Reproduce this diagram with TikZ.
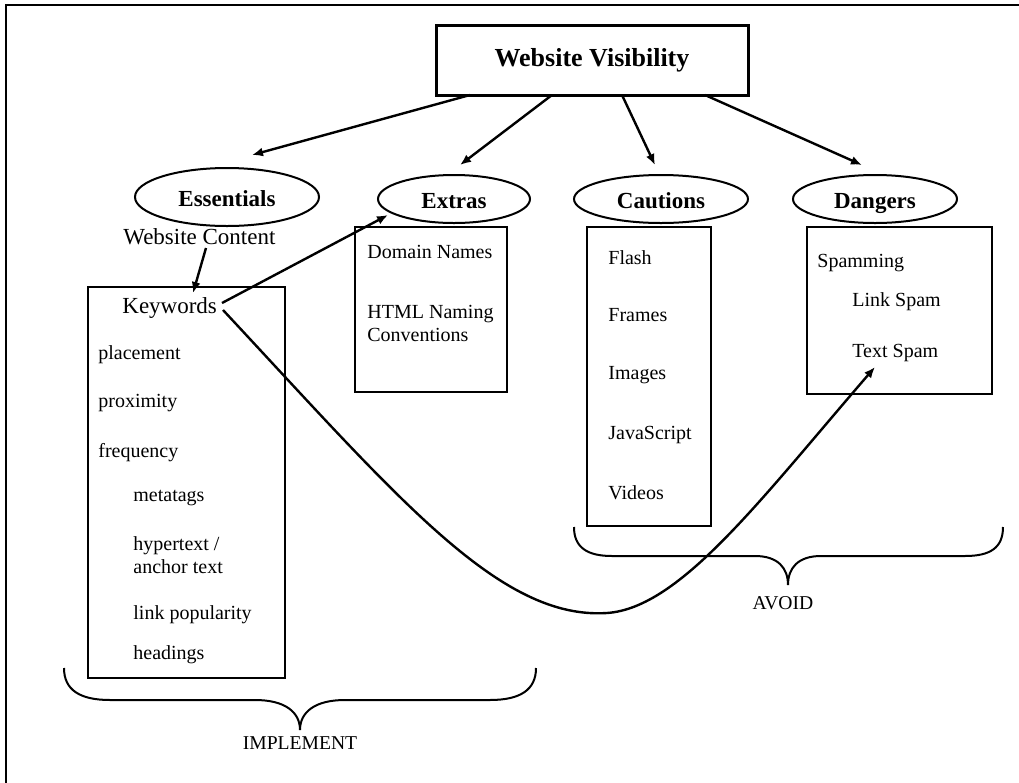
\documentclass[tikz,border=0pt]{standalone}
\usepackage{fontspec}
\setmainfont{Liberation Serif}
\usetikzlibrary{arrows.meta,shapes.geometric}
\begin{document}
\begin{tikzpicture}[x=0.5pt,y=-0.5pt,
  item/.style={inner sep=0pt,anchor=west,font=\fontsize{10}{11.5}\selectfont,align=left},
  bigitem/.style={inner sep=0pt,anchor=west,font=\fontsize{11.5}{13}\selectfont},
  oval/.style={draw,ellipse,line width=1pt,inner sep=0pt,text height=2.1ex,text depth=0.1ex,font=\bfseries\fontsize{11.5}{13}\selectfont},
  listbox/.style={draw,line width=0.6pt,inner sep=0pt},
  conn/.style={line width=1.2pt,-{Latex[length=5.5pt,width=4.5pt]}},
  brace/.style={line width=1pt},
  caption/.style={inner sep=0pt,font=\fontsize{9.8}{11}\selectfont}]
\useasboundingbox (0,0) rectangle (1019,783);
% outer frame (only top and left edges visible)
\draw[line width=1pt] (1019,5) -- (6,5) -- (6,783);

% title
\node (title) [draw,line width=1.5pt,minimum width=156pt,minimum height=35pt,inner sep=0pt,
  font=\bfseries\fontsize{13}{15}\selectfont] at (592,60) {Website Visibility};

% ellipses
\node (ess) [oval,minimum width=92pt,minimum height=29pt] at (227,197) {Essentials};
\node (ext) [oval,minimum width=76pt,minimum height=24pt] at (454,199) {Extras};
\node (cau) [oval,minimum width=87pt,minimum height=24pt] at (661,199) {Cautions};
\node (dan) [oval,minimum width=82pt,minimum height=24pt] at (875,199) {Dangers};

% boxes
\node (kbox) [listbox,minimum width=98.5pt,minimum height=195.5pt] at (186.5,482.5) {};
\node (xbox) [listbox,minimum width=76pt,minimum height=82.5pt] at (431,309.5) {};
\node (cbox) [listbox,minimum width=62pt,minimum height=149.5pt] at (649,376.5) {};
\node (dbox) [listbox,minimum width=92.5pt,minimum height=83.5pt] at (899.5,310.5) {};

% texts
\node (wc) [bigitem] at (123,237) {Website Content};
\node (kw) [bigitem] at (122,308) {Keywords};
\node (pl) [item] at (98,355) {placement};
\node (px) [item] at (98,403) {proximity};
\node (fr) [item] at (98,453) {frequency};
\node (mt) [item] at (133,498) {metatags};
\node (ht) [item] at (133,555) {hypertext /\\anchor text};
\node (lp) [item] at (133,615) {link popularity};
\node (hd) [item] at (133,655) {headings};

\node (dn) [item] at (367,252) {Domain Names};
\node (hn) [item] at (367,323) {HTML Naming\\Conventions};

\node (fl) [item] at (608,258) {Flash};
\node (fm) [item] at (608,315) {Frames};
\node (im) [item] at (608,375) {Images};
\node (js) [item] at (608,435) {JavaScript};
\node (vd) [item] at (608,493) {Videos};

\node (sp) [item] at (817,263) {Spamming};
\node (ls) [item] at (852,302) {Link Spam};
\node (ts) [item] at (852,353) {Text Spam};

% connector end points
\coordinate (t1) at (470,95);
\coordinate (t2) at (552,95);
\coordinate (t3) at (622,95);
\coordinate (t4) at (705,95);
\coordinate (e1) at (252,155);
\coordinate (e2) at (460,165);
\coordinate (e3) at (655,165);
\coordinate (e4) at (862,165);
\coordinate (wcs) at (206,248);
\coordinate (kwe) at (193,293);
\coordinate (kws) at (222,303);
\coordinate (exe) at (388,215);
\coordinate (kwc) at (223,310);
\coordinate (low) at (607,613);
\coordinate (tse) at (875,367);

\draw[conn] (t1) -- (e1);
\draw[conn] (t2) -- (e2);
\draw[conn] (t3) -- (e3);
\draw[conn] (t4) -- (e4);
\draw[conn] (wcs) -- (kwe);
\draw[conn] (kws) -- (exe);
\draw[conn] (kwc) .. controls (400,500) and (500,620) .. (low)
   .. controls (680,608) and (760,500) .. (tse);

% braces
\draw[brace] (64,668) .. controls (64,690) and (80,700) .. (110,700) -- (255,700)
  .. controls (285,700) and (300,712) .. (300,730)
  .. controls (300,712) and (315,700) .. (345,700) -- (490,700)
  .. controls (520,700) and (536,690) .. (536,668);
\node (impl) [caption] at (300,743) {IMPLEMENT};

\draw[brace] (574,527) .. controls (574,548) and (588,556) .. (612,556) -- (755,556)
  .. controls (778,556) and (788,568) .. (788,585)
  .. controls (788,568) and (798,556) .. (821,556) -- (965,556)
  .. controls (990,556) and (1003,548) .. (1003,527);
\node (avoid) [caption] at (783,603) {AVOID};
\end{tikzpicture}
\end{document}
